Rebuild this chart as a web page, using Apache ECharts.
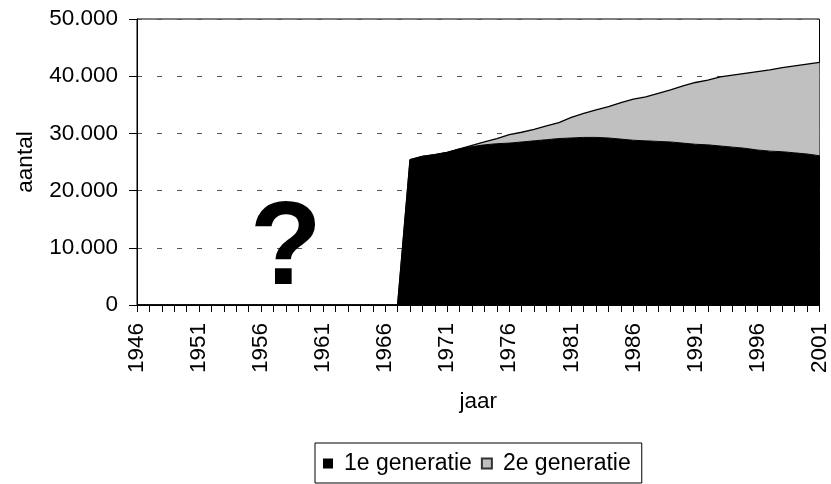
<!DOCTYPE html>
<html>
<head>
<meta charset="utf-8">
<script src="https://cdn.jsdelivr.net/npm/echarts@6/dist/echarts.min.js"></script>
<style>
  html, body { margin: 0; padding: 0; background: #fff; }
  #chart { width: 831px; height: 484px; }
</style>
</head>
<body>
<div id="chart"></div>
<script>
// jaren op de x-as
const years = [
  '1946','1947','1948','1949','1950','1951','1952','1953','1954','1955',
  '1956','1957','1958','1959','1960','1961','1962','1963','1964','1965',
  '1966','1967','1968','1969','1970','1971','1972','1973','1974','1975',
  '1976','1977','1978','1979','1980','1981','1982','1983','1984','1985',
  '1986','1987','1988','1989','1990','1991','1992','1993','1994','1995',
  '1996','1997','1998','1999','2000','2001'
]
// 1e generatie (1946-2001)
const gen1 = [
  0,0,0,0,0,0,0,0,0,0,
  0,0,0,0,0,0,0,0,0,0,
  0,0,25400,26000,26300,26700,27300,27700,28000,28200,
  28300,28500,28700,28900,29100,29200,29300,29300,29200,29000,
  28800,28700,28600,28500,28300,28100,28000,27800,27600,27400,
  27100,26900,26800,26600,26400,26100
]
// 2e generatie (1946-2001)
const gen2 = [
  0,0,0,0,0,0,0,0,0,0,
  0,0,0,0,0,0,0,0,0,0,
  0,0,0,0,0,0,0,200,500,900,
  1500,1700,2000,2400,2800,3600,4200,4800,5500,6400,
  7200,7700,8400,9100,10000,10800,11300,12100,12600,13100,
  13700,14200,14700,15200,15700,16300
]
const seriesNames = ['1e generatie', '2e generatie']
const yTicks = [0, 10000, 20000, 30000, 40000, 50000]

const font = 'Liberation Sans, Arial, sans-serif'
const fs = 22.5
function fmt(v){
  return String(v).replace(/\B(?=(\d{3})+(?!\d))/g, '.')
}

const chart = echarts.init(document.getElementById('chart'))
const option = {
  animation: false,
  textStyle: { fontFamily: font, color: '#000' },
  grid: {
    left: 137, right: 7, top: 19, bottom: 179,
    show: true, borderColor: '#000', borderWidth: 1, backgroundColor: 'transparent'
  },
  legend: {
    top: 443,
    left: 315,
    data: seriesNames,
    icon: 'rect',
    itemWidth: 10,
    itemHeight: 10,
    itemGap: 9,
    borderColor: '#000',
    borderWidth: 1,
    borderRadius: 0,
    padding: [9, 11, 8, 8],
    textStyle: { fontFamily: font, fontSize: 23, color: '#000', padding: [0, 0, 0, 6] }
  },
  xAxis: {
    type: 'category',
    data: years,
    boundaryGap: false,
    name: 'jaar',
    nameLocation: 'middle',
    nameGap: 85,
    nameTextStyle: { fontFamily: font, fontSize: fs, color: '#000' },
    axisLine: { lineStyle: { color: '#000', width: 1 } },
    axisTick: { show: true, interval: 0, length: 7, lineStyle: { color: '#000' } },
    axisLabel: {
      interval: 4, rotate: 90, margin: 18,
      fontFamily: font, fontSize: fs, color: '#000'
    },
    splitLine: { show: false }
  },
  yAxis: {
    type: 'value',
    min: yTicks[0],
    max: yTicks[yTicks.length - 1],
    interval: 10000,
    name: 'aantal',
    nameLocation: 'middle',
    nameGap: 100,
    nameTextStyle: { fontFamily: font, fontSize: fs, color: '#000' },
    axisLine: { show: true, lineStyle: { color: '#000', width: 1 } },
    axisTick: { show: true, length: 8, lineStyle: { color: '#000' } },
    axisLabel: {
      margin: 19, fontFamily: font, fontSize: fs, color: '#000',
      formatter: fmt
    },
    splitLine: { lineStyle: { color: '#555', type: [5, 15], width: 1 } }
  },
  series: [
    {
      name: seriesNames[0],
      type: 'line',
      stack: 'totaal',
      data: gen1,
      symbol: 'none',
      color: '#000000',
      lineStyle: { color: '#000', width: 1 },
      areaStyle: { color: '#000000', opacity: 1 },
      markPoint: {
        symbol: 'circle',
        symbolSize: 1,
        silent: true,
        itemStyle: { color: 'rgba(0,0,0,0)' },
        data: [{ coord: ['1958', 9300], value: '?' }],
        label: {
          show: true, position: 'inside', formatter: '?',
          fontFamily: font, fontWeight: 'bold', fontSize: 118, color: '#000'
        }
      }
    },
    {
      name: seriesNames[1],
      type: 'line',
      stack: 'totaal',
      data: gen2,
      symbol: 'none',
      color: '#c0c0c0',
      itemStyle: { color: '#c0c0c0', borderColor: '#333', borderWidth: 1 },
      lineStyle: { color: '#000', width: 1.3 },
      areaStyle: { color: '#c0c0c0', opacity: 1 }
    }
  ]
}
chart.setOption(option)
</script>
</body>
</html>
